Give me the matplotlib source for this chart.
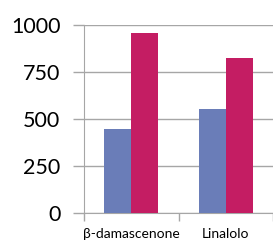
import matplotlib.pyplot as plt
import numpy as np

# data
categories = ["β-damascenone", "Linalolo"]
series_blue = [447, 553]
series_red = [956, 823]
y_ticks = [0, 250, 500, 750, 1000]

BLUE = "#6a7db8"
RED = "#c41d63"
GRID = "#a6a6a6"

plt.rcParams["font.family"] = ["Lato", "DejaVu Sans"]

fig = plt.figure(figsize=(2.73, 2.41), dpi=100)
ax = fig.add_axes([84 / 273, 28 / 241, 1 - 84 / 273, 188 / 241])

x = np.arange(len(categories))
w = 0.284
ax.bar(x - w / 2, series_blue, width=w, color=BLUE, zorder=3)
ax.bar(x + w / 2, series_red, width=w, color=RED, zorder=3)

ax.set_xlim(-0.5, 1.5)
ax.set_ylim(0, 1000)
ax.set_yticks(y_ticks)
ax.set_yticklabels([str(v) for v in y_ticks], fontsize=15.5)
ax.yaxis.grid(True, color=GRID, linewidth=1, zorder=0)
ax.tick_params(axis="y", length=8, width=1, color=GRID, pad=9)

# category labels, boundary ticks
ax.set_xticks([-0.5, 0.5, 1.5])
ax.set_xticklabels([])
ax.set_xticks(x, minor=True)
ax.set_xticklabels(categories, minor=True, fontsize=10)
ax.tick_params(axis="x", which="major", length=6, width=1, color=GRID)
ax.tick_params(axis="x", which="minor", length=0, pad=11)

for s in ["top", "right"]:
    ax.spines[s].set_visible(False)
ax.spines["left"].set_color(GRID)
ax.spines["bottom"].set_color(GRID)

fig.savefig("out.png", dpi=100)
